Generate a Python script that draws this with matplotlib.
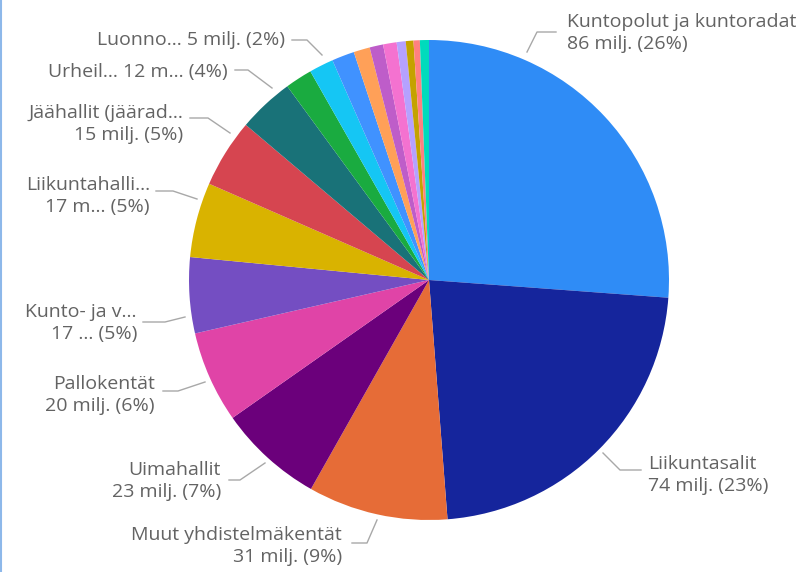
import numpy as np
import matplotlib
matplotlib.use("Agg")
import matplotlib.pyplot as plt

# slice values (milj.), clockwise from 12 o'clock
categories = ["Kuntopolut ja kuntoradat", "Liikuntasalit", "Muut yhdistelmäkentät",
              "Uimahallit", "Pallokentät", "Kunto- ja v...", "Liikuntahalli...",
              "Jäähallit (jäärad...", "Urheil...", "muu 1", "Luonno...", "muu 2",
              "muu 3", "muu 4", "muu 5", "muu 6", "muu 7", "muu 8", "muu 9"]
values = [86.2, 74.4, 31.0, 23.3, 20.3, 16.8, 16.6, 15.2, 12.4,
          6.0, 5.4, 5.0, 3.6, 3.0, 3.0, 2.0, 1.7, 1.4, 2.0]
colors = ["#2F8CF6", "#15259C", "#E66C37", "#6B007B", "#E044A7", "#744EC2", "#D9B300",
          "#D64550", "#197278", "#1AAB40", "#15C6F4", "#4092FF", "#FFA058", "#BE5DC9",
          "#F472D0", "#B5A1FF", "#C4A200", "#FF8080", "#00DBBC"]

# label texts as shown in the chart
label_texts = ["Kuntopolut ja kuntoradat\n86 milj. (26%)",
               "Liikuntasalit\n74 milj. (23%)",
               "Muut yhdistelmäkentät\n31 milj. (9%)",
               "Uimahallit\n23 milj. (7%)",
               "Pallokentät\n20 milj. (6%)",
               "Kunto- ja v...\n17 ... (5%)",
               "Liikuntahalli...\n17 m... (5%)",
               "Jäähallit (jäärad...\n15 milj. (5%)",
               "Urheil... 12 m... (4%)",
               "Luonno... 5 milj. (2%)"]

# layout (pixels): text anchor x, text centre y, alignment, leader polyline
label_layout = [
    (567, 33, "left", [(527, 52), (537, 32), (556, 32)]),
    (648, 475, "left", [(603, 453), (620, 470), (641, 470)]),
    (342, 546, "right", [(377, 520), (367, 543), (352, 543)]),
    (221, 481, "right", [(265, 463), (240, 480), (229, 480)]),
    (155, 395, "right", [(205, 382), (178, 391), (163, 391)]),
    (137, 323, "right", [(185, 317), (165, 322), (143, 322)]),
    (150, 196, "right", [(197, 199), (173, 191), (156, 191)]),
    (183, 124, "right", [(230, 133), (208, 118), (190, 118)]),
    (228, 72, "right", [(272, 88), (248, 70), (235, 70)]),
    (285, 40, "right", [(322, 55), (307, 40), (292, 40)]),
]

W, H = 798, 572
CX, CY, R = 429, 280, 240


def px(x, y):
    return (x - CX) / R, (CY - y) / R


fig = plt.figure(figsize=(W / 100, H / 100), dpi=100)
ax = fig.add_axes([0, 0, 1, 1])

ax.pie(values, colors=colors, startangle=90, counterclock=False, radius=1,
       wedgeprops=dict(linewidth=0))

ax.set_xlim(-CX / R, (W - CX) / R)
ax.set_ylim(-(H - CY) / R, CY / R)
ax.set_aspect("equal")
ax.axis("off")

text_color = "#636363"
for txt, (tx, ty, ha, pts) in zip(label_texts, label_layout):
    xs, ys = zip(*[px(p, q) for p, q in pts])
    ax.plot(xs, ys, color="#A8A8A8", lw=1.0)
    x, y = px(tx, ty)
    ax.text(x, y, txt, ha=ha, va="center", color=text_color, fontsize=14,
            family="Open Sans", linespacing=1.3, multialignment=ha)

# thin blue frame line at the left edge
fig.add_artist(plt.Line2D([0.0015, 0.0015], [0, 1], color="#8DB8EA", lw=1.5,
                          transform=fig.transFigure))

fig.savefig("out.png", dpi=100)
